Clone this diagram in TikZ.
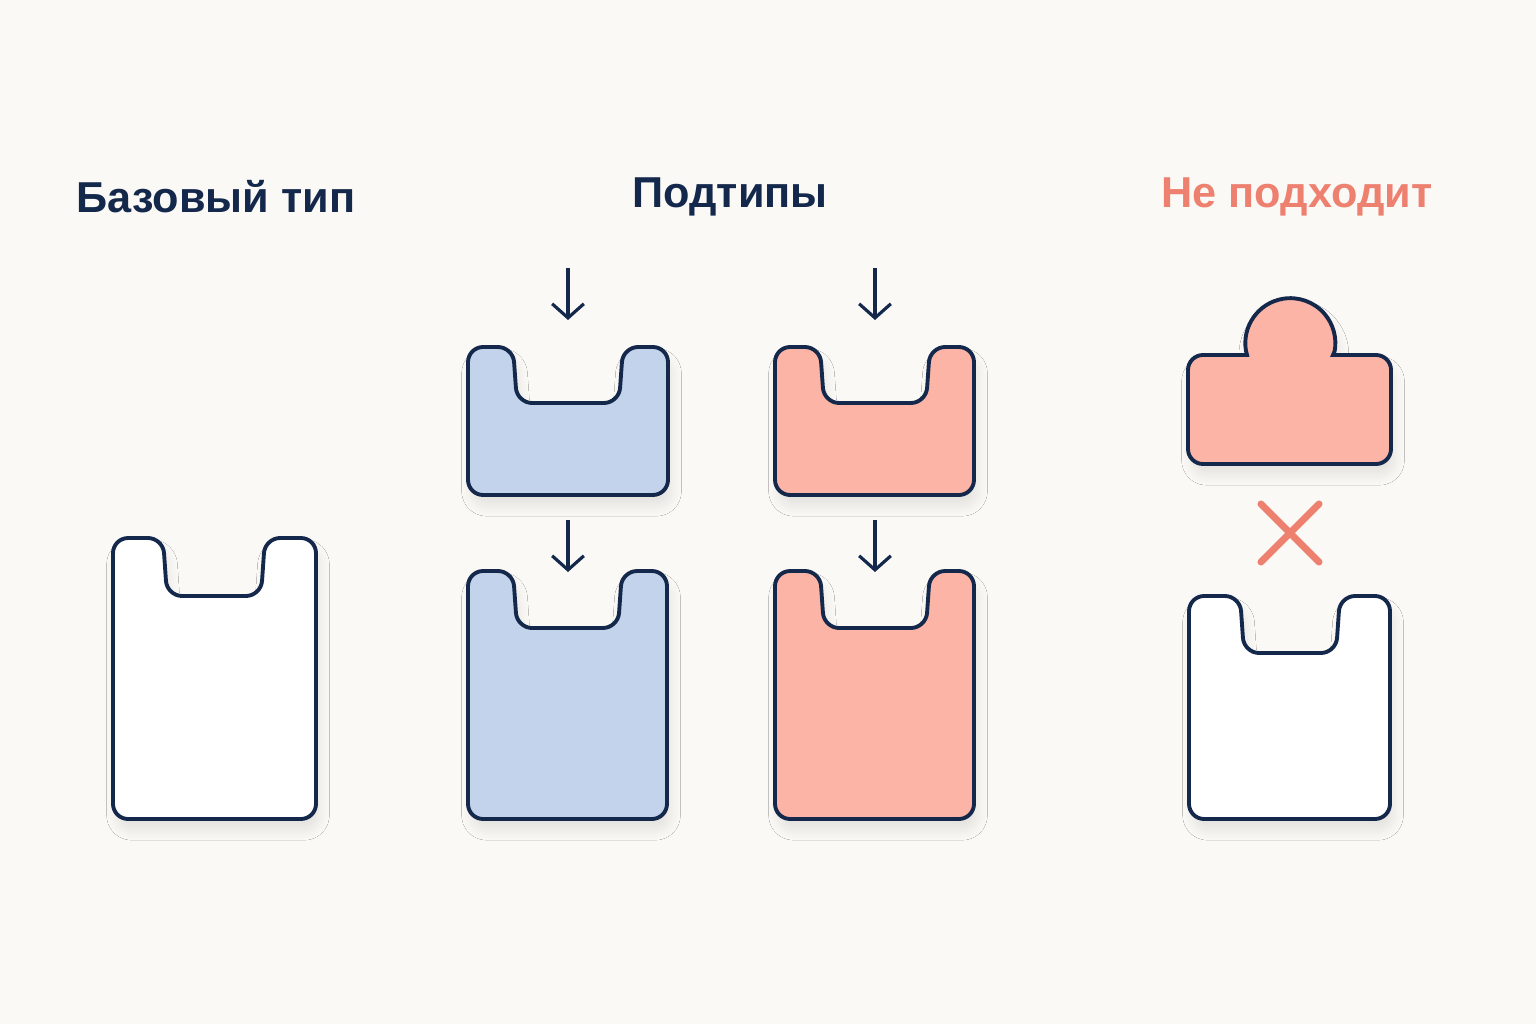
\documentclass[tikz,border=0pt]{standalone}
\usepackage{fontspec}
\setmainfont{Liberation Sans}
\usetikzlibrary{arrows.meta,shadows.blur}

\definecolor{bgcol}{HTML}{FAF9F6}
\definecolor{navy}{HTML}{14284B}
\definecolor{bluefill}{HTML}{C3D3EC}
\definecolor{redfill}{HTML}{FBB4A5}
\definecolor{badcol}{HTML}{EE8070}

\tikzset{%
  title/.style={
    font=\fontsize{12.3}{15}\selectfont\bfseries,
    text=navy,
    anchor=center
  },
  holder/.style={
    draw=navy,
    line width=1.1pt,
    rounded corners=4.3pt,
    blur shadow={shadow xshift=1pt, shadow yshift=-3.2pt, shadow opacity=9,
      shadow blur radius=2.8pt, shadow blur steps=10}
  },
  insert/.style={
    draw=navy,
    line width=0.9pt,
    -{Straight Barb[length=4pt,width=9pt]}
  },
}

% #1 style, #2 x left, #3 y top, #4 x right, #5 y bottom, #6 notch left, #7 notch right, #8 notch bottom
\newcommand{\holder}[8]{%
  \path [holder, #1] ({(#2+#4)/2},#5) -- (#2,#5) -- (#2,#3) -- (#6,#3)
    -- ({#6+4},#8) -- ({#7-4},#8) -- (#7,#3) -- (#4,#3) -- (#4,#5) -- cycle;
}

\begin{document}
\begin{tikzpicture}[x=0.01cm, y=-0.01cm]
  \fill [bgcol] (0,0) rectangle (1536,1024);

  % titles
  \node [title] (base-title) at (216,197) {Базовый тип};
  \node [title] (sub-title) at (730,197) {Подтипы};
  \node [title, text=badcol] (bad-title) at (1297,197) {Не подходит};

  % base type
  \holder{fill=white}{113}{538}{316}{819}{163}{265}{596}

  % subtypes
  \holder{fill=bluefill}{468}{347}{668}{495}{513}{623}{403}
  \holder{fill=bluefill}{468}{571}{667}{819}{513}{622}{628}
  \holder{fill=redfill}{775}{347}{974}{495}{820}{930}{403}
  \holder{fill=redfill}{775}{571}{974}{819}{820}{930}{628}

  % arrows into the subtypes
  \foreach \x/\n in {568/blue,875/red}
  {
    \coordinate (\n-in-1) at (\x,268);
    \coordinate (\n-top-1) at (\x,320);
    \coordinate (\n-in-2) at (\x,520);
    \coordinate (\n-top-2) at (\x,572);
    \draw [insert] (\n-in-1) -- (\n-top-1);
    \draw [insert] (\n-in-2) -- (\n-top-2);
  }

  % does not fit
  \path [holder, sharp corners, fill=redfill] (1290,464) -- (1203,464)
    arc [start angle=270, end angle=180, radius=0.15cm] -- (1188,370)
    arc [start angle=180, end angle=90, radius=0.15cm] -- (1247,355)
    -- (1246,351) arc [start angle=190, end angle=-10, radius=0.45cm]
    -- (1333,355) -- (1376,355)
    arc [start angle=90, end angle=0, radius=0.15cm] -- (1391,449)
    arc [start angle=0, end angle=-90, radius=0.15cm] -- cycle;
  \holder{fill=white}{1189}{596}{1390}{819}{1240}{1340}{653}

  \coordinate (cross-a) at (1261,504);
  \coordinate (cross-b) at (1319,562);
  \coordinate (cross-c) at (1319,504);
  \coordinate (cross-d) at (1261,562);
  \draw [badcol, line width=2pt, line cap=round] (cross-a) -- (cross-b);
  \draw [badcol, line width=2pt, line cap=round] (cross-c) -- (cross-d);
\end{tikzpicture}
\end{document}
